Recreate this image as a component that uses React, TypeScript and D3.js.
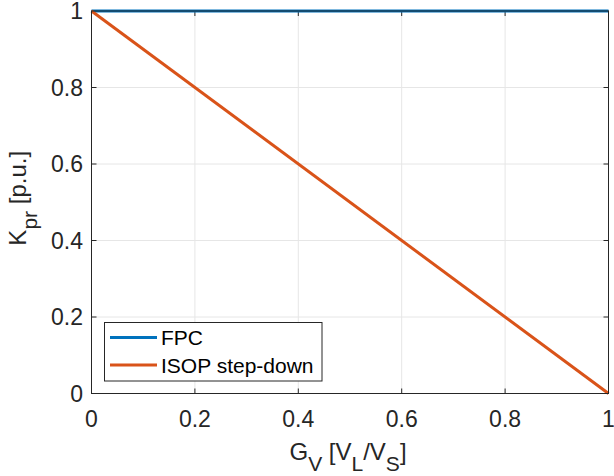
import React from "react";
import * as d3 from "d3";

const gv = [0, 1];
const fpc = [1, 1];
const isop = [1, 0];
const xTicks = [0, 0.2, 0.4, 0.6, 0.8, 1];
const yTicks = [0, 0.2, 0.4, 0.6, 0.8, 1];
const seriesNames = ["FPC", "ISOP step-down"];
const seriesColors = ["#0072BD", "#D95319"];

export default function App() {
  const W = 614, H = 476;
  const L = 91.5, R = 608.5, T = 11, B = 393.5;
  const x = d3.scaleLinear().domain([0, 1]).range([L, R]);
  const y = d3.scaleLinear().domain([0, 1]).range([B, T]);
  const line = d3.line<[number, number]>().x(d => x(d[0])).y(d => y(d[1]));
  const series = [fpc, isop];
  const font = "'Liberation Sans', Arial, Helvetica, sans-serif";
  const axisColor = "#262626";
  const fmt = (v: number) => String(v);
  return (
    <svg width={W} height={H} style={{ position: "absolute", left: 0, top: 0, background: "#fff" }} fontFamily={font}>
      <rect x={0} y={0} width={W} height={H} fill="#fff" />
      {xTicks.map(t => (
        <line key={"gx" + t} x1={x(t)} x2={x(t)} y1={T} y2={B} stroke="#e6e6e6" strokeWidth={1} />
      ))}
      {yTicks.map(t => (
        <line key={"gy" + t} x1={L} x2={R} y1={y(t)} y2={y(t)} stroke="#e6e6e6" strokeWidth={1} />
      ))}
      {xTicks.map(t => (
        <g key={"tx" + t}>
          <line x1={x(t)} x2={x(t)} y1={B} y2={B - 5} stroke={axisColor} />
          <line x1={x(t)} x2={x(t)} y1={T} y2={T + 5} stroke={axisColor} />
          <text x={x(t)} y={427} fontSize={23} textAnchor="middle" fill={axisColor}>{fmt(t)}</text>
        </g>
      ))}
      {yTicks.map(t => (
        <g key={"ty" + t}>
          <line x1={L} x2={L + 5} y1={y(t)} y2={y(t)} stroke={axisColor} />
          <line x1={R} x2={R - 5} y1={y(t)} y2={y(t)} stroke={axisColor} />
          <text x={83} y={y(t)} dy="0.36em" fontSize={23} textAnchor="end" fill={axisColor}>{fmt(t)}</text>
        </g>
      ))}
      {series.map((s, i) => (
        <path key={"s" + i} d={line(gv.map((g, j) => [g, s[j]] as [number, number])) || ""} fill="none" stroke={seriesColors[i]} strokeWidth={3} />
      ))}
      <rect x={L} y={T} width={R - L} height={B - T} fill="none" stroke={axisColor} strokeWidth={1} />
      <rect x={104.5} y={322.5} width={217.5} height={58.5} fill="#fff" stroke={axisColor} strokeWidth={1} />
      {seriesNames.map((n, i) => (
        <g key={"lg" + i}>
          <line x1={110} x2={157} y1={337.5 + i * 27.5} y2={337.5 + i * 27.5} stroke={seriesColors[i]} strokeWidth={3} />
          <text x={161} y={337.5 + i * 27.5} dy="0.36em" fontSize={21} fill="#000">{n}</text>
        </g>
      ))}
      <text x={348} y={460} fontSize={24} textAnchor="middle" fill={axisColor}>
        G<tspan fontSize={21} dy={11}>V</tspan>
        <tspan dy={-11}> [V</tspan><tspan fontSize={21} dy={11}>L</tspan>
        <tspan dy={-11}>/V</tspan><tspan fontSize={21} dy={11}>S</tspan>
        <tspan dy={-11}>]</tspan>
      </text>
      <text transform={`translate(26,${(T + B) / 2 - 4}) rotate(-90)`} fontSize={24} textAnchor="middle" fill={axisColor}>
        K<tspan fontSize={21} dy={11}>pr</tspan>
        <tspan dy={-11}> [p.u.]</tspan>
      </text>
    </svg>
  );
}
